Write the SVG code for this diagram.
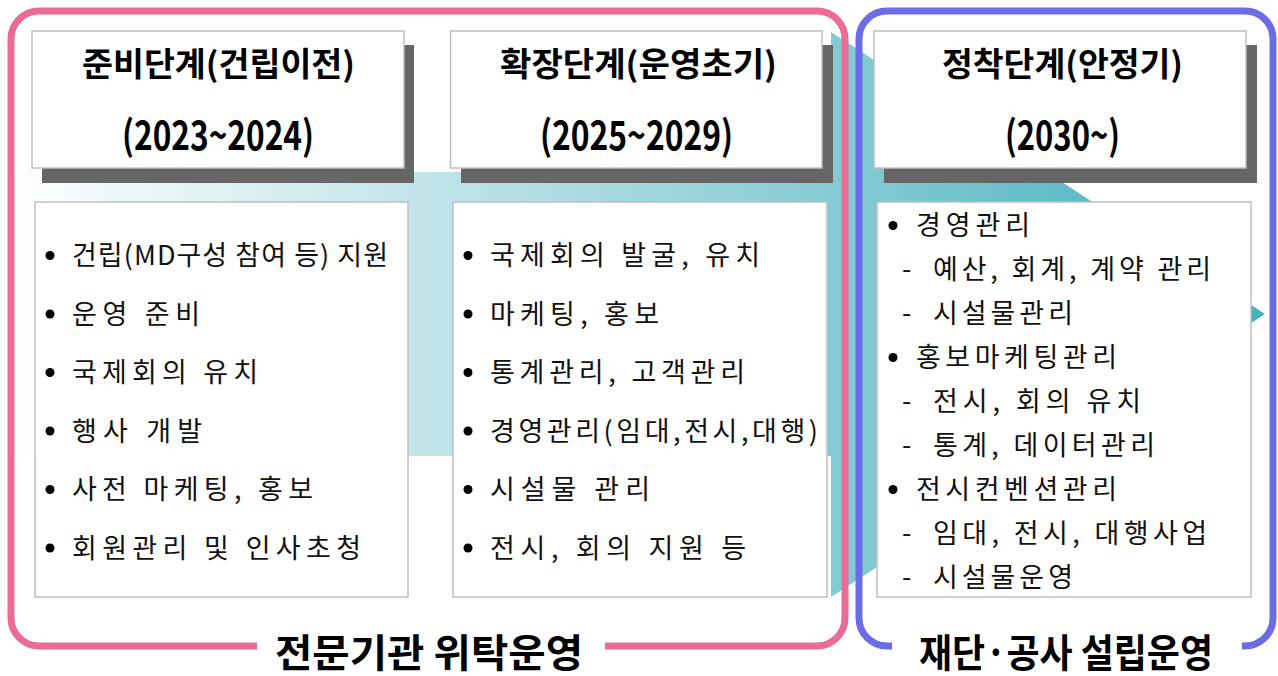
<svg xmlns="http://www.w3.org/2000/svg" width="1278" height="676" viewBox="0 0 1278 676">
<defs>
<linearGradient id="bgGrad" x1="0" y1="0" x2="1265" y2="0" gradientUnits="userSpaceOnUse">
<stop offset="0" stop-color="#FFFFFF"/>
<stop offset="1" stop-color="#46B0BD"/>
</linearGradient>
<style>
.hbox{fill:#FFFFFF;stroke:#BFBFBF;stroke-width:1.5}
.shadow{fill:#666666}
.cbox{fill:#FFFFFF;stroke:#BFBFBF;stroke-width:1.5}
.h1{font-family:"Noto Sans CJK KR","Noto Sans",sans-serif;font-weight:700;font-size:33px;fill:#000000}
.h2{font-family:"Noto Sans CJK KR","Noto Sans",sans-serif;font-weight:700;font-size:40px;fill:#000000}
.item{font-family:"Noto Sans CJK KR","Noto Sans",sans-serif;font-weight:400;font-size:27px;fill:#111111}
.bullet{fill:#000000}
.lbl{font-family:"Noto Sans CJK KR","Noto Sans",sans-serif;font-weight:700;font-size:39px;fill:#000000}
.pink{fill:none;stroke:#EA6B94;stroke-width:7}
.blue{fill:none;stroke:#6C6CE5;stroke-width:7}
</style>
</defs>
<rect width="1278" height="676" fill="#FFFFFF"/>

<g id="background-arrow">
<polygon points="0,172 831,172 831,32 1265,314 831,597 831,456 0,456" fill="url(#bgGrad)"/>
</g>

<g id="frames">
<path class="pink" d="M257,646 H39 A28,28 0 0 1 11,618 V39 A28,28 0 0 1 39,11 H817 A28,28 0 0 1 845,39 V618 A28,28 0 0 1 817,646 H605"/>
<path class="blue" d="M892,646 H887 A28,28 0 0 1 859,618 V39 A28,28 0 0 1 887,11 H1245 A28,28 0 0 1 1273,39 V618 A28,28 0 0 1 1245,646 H1242"/>
</g>

<g id="stage1-header">
<rect class="shadow" x="42" y="45" width="372" height="138"/>
<rect class="hbox" x="32" y="31" width="372" height="137"/>
<text class="h1" x="82" y="76" textLength="273" lengthAdjust="spacingAndGlyphs">준비단계(건립이전)</text>
<text class="h2" x="122" y="150" textLength="192" lengthAdjust="spacingAndGlyphs">(2023~2024)</text>
</g>

<g id="stage2-header">
<rect class="shadow" x="461" y="45" width="372" height="138"/>
<rect class="hbox" x="450.5" y="31" width="371.5" height="137"/>
<text class="h1" x="500" y="76" textLength="277" lengthAdjust="spacingAndGlyphs">확장단계(운영초기)</text>
<text class="h2" x="540" y="150" textLength="193" lengthAdjust="spacingAndGlyphs">(2025~2029)</text>
</g>

<g id="stage3-header">
<rect class="shadow" x="884" y="45" width="373" height="138"/>
<rect class="hbox" x="874" y="31" width="372" height="137"/>
<text class="h1" x="942" y="76" textLength="241" lengthAdjust="spacingAndGlyphs">정착단계(안정기)</text>
<text class="h2" x="1005" y="150" textLength="115" lengthAdjust="spacingAndGlyphs">(2030~)</text>
</g>

<g id="stage1-content">
<rect class="cbox" x="35" y="202" width="373" height="395"/>
<circle class="bullet" cx="50" cy="255.5" r="4.5"/>
<text class="item" x="72" y="265" textLength="316" lengthAdjust="spacing">건립(MD구성 참여 등) 지원</text>
<circle class="bullet" cx="50" cy="314" r="4.5"/>
<text class="item" x="72" y="323.5" textLength="128" lengthAdjust="spacing">운영 준비</text>
<circle class="bullet" cx="50" cy="372.5" r="4.5"/>
<text class="item" x="72" y="382" textLength="186" lengthAdjust="spacing">국제회의 유치</text>
<circle class="bullet" cx="50" cy="431" r="4.5"/>
<text class="item" x="72" y="440.5" textLength="130" lengthAdjust="spacing">행사 개발</text>
<circle class="bullet" cx="50" cy="489.5" r="4.5"/>
<text class="item" x="72" y="499" textLength="241" lengthAdjust="spacing">사전 마케팅, 홍보</text>
<circle class="bullet" cx="50" cy="548" r="4.5"/>
<text class="item" x="72" y="557.5" textLength="289" lengthAdjust="spacing">회원관리 및 인사초청</text>
</g>

<g id="stage2-content">
<rect class="cbox" x="453" y="202" width="374" height="395"/>
<circle class="bullet" cx="468" cy="255.5" r="4.5"/>
<text class="item" x="490" y="265" textLength="270" lengthAdjust="spacing">국제회의 발굴, 유치</text>
<circle class="bullet" cx="468" cy="314" r="4.5"/>
<text class="item" x="490" y="323.5" textLength="169" lengthAdjust="spacing">마케팅, 홍보</text>
<circle class="bullet" cx="468" cy="372.5" r="4.5"/>
<text class="item" x="490" y="382" textLength="255" lengthAdjust="spacing">통계관리, 고객관리</text>
<circle class="bullet" cx="468" cy="431" r="4.5"/>
<text class="item" x="490" y="440.5" textLength="328" lengthAdjust="spacing">경영관리(임대,전시,대행)</text>
<circle class="bullet" cx="468" cy="489.5" r="4.5"/>
<text class="item" x="490" y="499" textLength="160" lengthAdjust="spacing">시설물 관리</text>
<circle class="bullet" cx="468" cy="548" r="4.5"/>
<text class="item" x="490" y="557.5" textLength="256" lengthAdjust="spacing">전시, 회의 지원 등</text>
</g>

<g id="stage3-content">
<rect class="cbox" x="877" y="202" width="374" height="395"/>
<circle class="bullet" cx="893" cy="225.5" r="4.5"/>
<text class="item" x="916" y="235" textLength="114" lengthAdjust="spacing">경영관리</text>
<text class="item" x="902" y="279">-</text>
<text class="item" x="933" y="279" textLength="278" lengthAdjust="spacing">예산, 회계, 계약 관리</text>
<text class="item" x="902" y="323">-</text>
<text class="item" x="933" y="323" textLength="140" lengthAdjust="spacing">시설물관리</text>
<circle class="bullet" cx="893" cy="357.5" r="4.5"/>
<text class="item" x="916" y="367" textLength="201" lengthAdjust="spacing">홍보마케팅관리</text>
<text class="item" x="902" y="411">-</text>
<text class="item" x="933" y="411" textLength="208" lengthAdjust="spacing">전시, 회의 유치</text>
<text class="item" x="902" y="455">-</text>
<text class="item" x="933" y="455" textLength="222" lengthAdjust="spacing">통계, 데이터관리</text>
<circle class="bullet" cx="893" cy="489.5" r="4.5"/>
<text class="item" x="916" y="499" textLength="201" lengthAdjust="spacing">전시컨벤션관리</text>
<text class="item" x="902" y="543">-</text>
<text class="item" x="933" y="543" textLength="274" lengthAdjust="spacing">임대, 전시, 대행사업</text>
<text class="item" x="902" y="587">-</text>
<text class="item" x="933" y="587" textLength="140" lengthAdjust="spacing">시설물운영</text>
</g>

<g id="label-outsourced">
<text class="lbl" x="275" y="667" textLength="308" lengthAdjust="spacingAndGlyphs">전문기관 위탁운영</text>
</g>
<g id="label-foundation">
<text class="lbl" x="919" y="667" textLength="294" lengthAdjust="spacingAndGlyphs">재단·공사 설립운영</text>
</g>
</svg>
